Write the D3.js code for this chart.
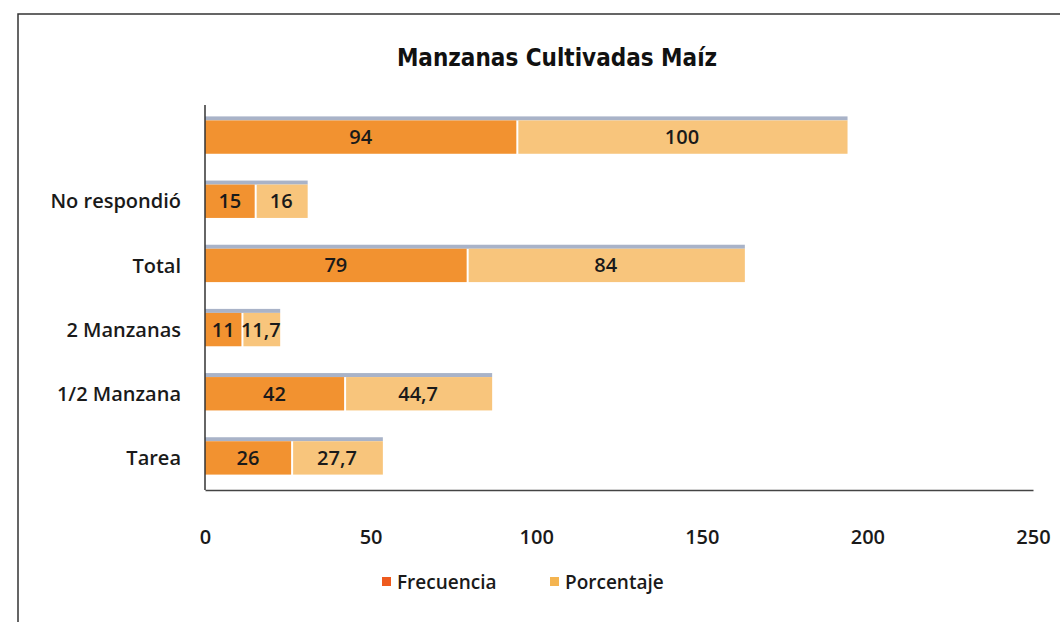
<!DOCTYPE html>
<html>
<head>
<meta charset="utf-8">
<script src="https://cdn.jsdelivr.net/npm/d3@7"></script>
<style>
  body { margin: 0; background: #fff; }
  text { font-family: "Open Sans", "Noto Sans", sans-serif; font-weight: 600; }
</style>
</head>
<body>
<div id="chart"></div>
<script>
const categories = ['', 'No respondió', 'Total', '2 Manzanas', '1/2 Manzana', 'Tarea'];
const frecuencia = [94, 15, 79, 11, 42, 26];
const porcentaje = [100, 16, 84, 11.7, 44.7, 27.7];
const xTicks = [0, 50, 100, 150, 200, 250];
const seriesNames = ['Frecuencia', 'Porcentaje'];

const dimension = { width: 1060, height: 622 };
const colors = ['#F29230', '#F8C57C'];

const svg = d3.select('#chart')
  .append('svg')
  .attr('width', dimension.width)
  .attr('height', dimension.height);

// frame of the scanned chart
svg.append('path')
  .attr('d', 'M18,622 L18,14 L1060,14')
  .attr('fill', 'none')
  .attr('stroke', '#333')
  .attr('stroke-width', 1.5);

svg.append('text')
  .attr('x', 557).attr('y', 66)
  .attr('text-anchor', 'middle')
  .attr('font-size', 24)
  .style('font-weight', 'bold')
  .style('font-family', '"DejaVu Sans Condensed", "Open Sans", sans-serif')
  .attr('fill', '#111')
  .text('Manzanas Cultivadas Maíz');

const xScale = d3.scaleLinear().domain([0, 250]).range([205, 1033]);
const yScale = d3.scaleBand().domain(categories).range([105, 490]).paddingInner(0.48).paddingOuter(0.24);

const rows = categories.map((c, i) => ({ cat: c, f: frecuencia[i], p: porcentaje[i] }));
const fmt = v => String(v).replace('.', ',');

const g = svg.append('g');

// thin bluish shadow on top of each bar
g.selectAll('.shadow')
  .data(rows)
  .join('rect')
  .attr('x', xScale(0))
  .attr('y', d => yScale(d.cat) - 4)
  .attr('width', d => xScale(d.f + d.p) - xScale(0))
  .attr('height', 4)
  .attr('fill', '#9AA6BE')
  .attr('opacity', 0.85);

g.selectAll('.bf')
  .data(rows)
  .join('rect')
  .attr('x', xScale(0))
  .attr('y', d => yScale(d.cat))
  .attr('width', d => xScale(d.f) - xScale(0))
  .attr('height', yScale.bandwidth())
  .attr('fill', colors[0]);

g.selectAll('.bp')
  .data(rows)
  .join('rect')
  .attr('x', d => xScale(d.f) + 2)
  .attr('y', d => yScale(d.cat))
  .attr('width', d => xScale(d.f + d.p) - xScale(d.f) - 2)
  .attr('height', yScale.bandwidth())
  .attr('fill', colors[1]);

g.selectAll('.lf')
  .data(rows)
  .join('text')
  .attr('x', d => (xScale(0) + xScale(d.f)) / 2)
  .attr('y', d => yScale(d.cat) + yScale.bandwidth() / 2 + 7)
  .attr('text-anchor', 'middle')
  .attr('font-size', 20)
  .attr('fill', '#1a1a1a')
  .text(d => fmt(d.f));

g.selectAll('.lp')
  .data(rows)
  .join('text')
  .attr('x', d => (xScale(d.f) + xScale(d.f + d.p)) / 2)
  .attr('y', d => yScale(d.cat) + yScale.bandwidth() / 2 + 7)
  .attr('text-anchor', 'middle')
  .attr('font-size', 20)
  .attr('fill', '#1a1a1a')
  .text(d => fmt(d.p));

// category axis
const yAxis = svg.append('g')
  .attr('transform', `translate(${xScale(0)},0)`)
  .call(d3.axisLeft(yScale).tickSize(0).tickPadding(24));
yAxis.select('.domain').attr('stroke', '#333').attr('stroke-width', 1.5)
  .attr('d', 'M0,105V490');
yAxis.selectAll('text').attr('font-size', 20).attr('fill', '#1a1a1a')
  .attr('font-family', null)
  .attr('dy', '0.36em');

// value axis
const xAxis = svg.append('g')
  .attr('transform', 'translate(0,490)')
  .call(d3.axisBottom(xScale).tickValues(xTicks).tickSize(0).tickPadding(40));
xAxis.select('.domain').attr('stroke', '#444').attr('stroke-width', 1.5);
xAxis.selectAll('text').attr('font-size', 20).attr('fill', '#1a1a1a')
  .attr('font-family', null);

// legend
const legend = svg.append('g').attr('transform', 'translate(382,583)');
const items = legend.selectAll('g')
  .data(seriesNames)
  .join('g')
  .attr('transform', (d, i) => `translate(${i * 168},0)`);
items.append('rect')
  .attr('x', 0).attr('y', -6)
  .attr('width', 9).attr('height', 9)
  .attr('fill', (d, i) => i === 0 ? '#EE5A1E' : '#F4B450');
items.append('text')
  .attr('x', 15).attr('y', 6)
  .attr('font-size', 19)
  .attr('fill', '#1a1a1a')
  .text(d => d);
</script>
</body>
</html>
